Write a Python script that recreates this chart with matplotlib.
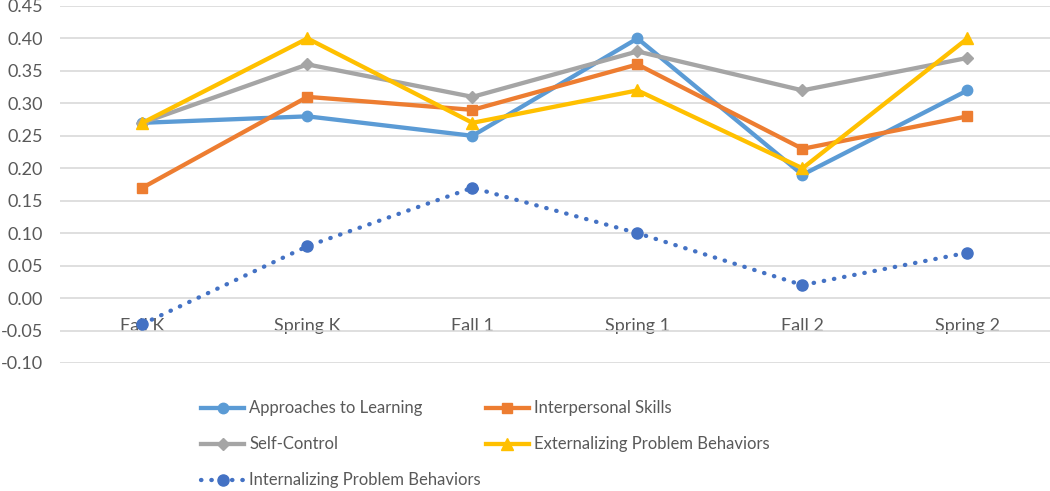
import matplotlib.pyplot as plt

plt.rcParams['font.family'] = ['Lato', 'DejaVu Sans']

waves = ['Fall K', 'Spring K', 'Fall 1', 'Spring 1', 'Fall 2', 'Spring 2']
approaches = [0.27, 0.28, 0.25, 0.40, 0.19, 0.32]
interpersonal = [0.17, 0.31, 0.29, 0.36, 0.23, 0.28]
self_control = [0.27, 0.36, 0.31, 0.38, 0.32, 0.37]
externalizing = [0.27, 0.40, 0.27, 0.32, 0.20, 0.40]
internalizing = [-0.04, 0.08, 0.17, 0.10, 0.02, 0.07]
yticks = [-0.10, -0.05, 0.00, 0.05, 0.10, 0.15, 0.20, 0.25, 0.30, 0.35, 0.40, 0.45]

fig = plt.figure(figsize=(10.5, 4.91), dpi=100)
ax = fig.add_axes([0.0571, 0.2607, 0.9429, 0.7271])
x = list(range(len(waves)))

la, = ax.plot(x, approaches, color='#5B9BD5', lw=3.1, marker='o', ms=7.5,
              solid_joinstyle='round')
li, = ax.plot(x, interpersonal, color='#ED7D31', lw=3.1, marker='s', ms=7,
              solid_joinstyle='round')
ls, = ax.plot(x, self_control, color='#A5A5A5', lw=3.1, marker='D', ms=6.5,
              solid_joinstyle='round')
le, = ax.plot(x, externalizing, color='#FFC000', lw=3.1, marker='^', ms=8,
              solid_joinstyle='round')
ln, = ax.plot(x, internalizing, color='#4472C4', lw=3.1, marker='o', ms=8,
              linestyle=(0, (0.1, 2.3)), dash_capstyle='round')

ax.set_xlim(-0.5, 5.5)
ax.set_ylim(-0.10, 0.45)
ax.set_yticks(yticks)
ax.set_yticklabels([f'{v:.2f}' for v in yticks])
ax.grid(axis='y', color='#D9D9D9', lw=1.2)
ax.set_axisbelow(True)
for s in ['top', 'right', 'left']:
    ax.spines[s].set_visible(False)
ax.spines['bottom'].set_position(('data', 0))
ax.spines['bottom'].set_visible(False)
ax.set_xticks(x)
ax.set_xticklabels(waves)
ax.tick_params(axis='both', length=0, labelsize=13, labelcolor='#595959')
ax.tick_params(axis='x', pad=14)
ax.tick_params(axis='y', pad=12)

# legend: column-wise fill, so order handles to match the 2-column layout
names = ['Approaches to Learning', 'Self-Control', 'Internalizing Problem Behaviors',
         'Interpersonal Skills', 'Externalizing Problem Behaviors']
fig.legend([la, ls, ln, li, le], names, ncol=2, loc='upper left',
           bbox_to_anchor=(0.177, 0.215), frameon=False, fontsize=12,
           labelcolor='#595959', handlelength=2.6, handletextpad=0.3,
           columnspacing=0.3, labelspacing=1.2)

fig.savefig('out.png', dpi=100)
